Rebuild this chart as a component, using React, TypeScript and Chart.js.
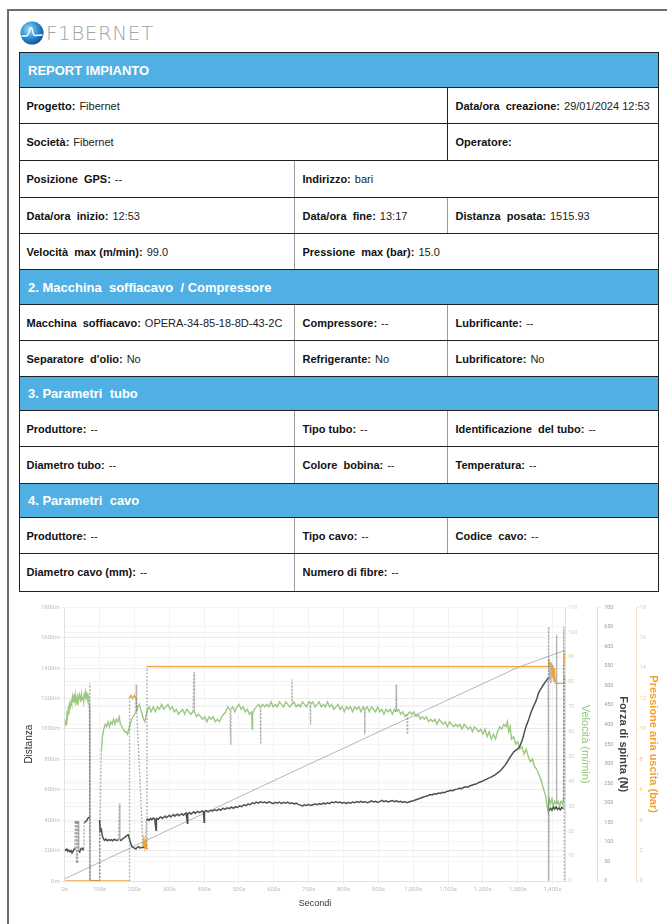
import React, { useEffect, useRef } from "react";
import { Chart, registerables } from "chart.js";

Chart.register(...registerables);

// ---------------- chart data (seconds, value) ----------------
const velocity: [number, number][] = [
  [0, 62], [2, 64], [4, 63], [6, 67], [8, 66], [10, 69], [12, 67], [14, 71], [16, 70], [18, 72],
  [20, 71], [22, 74], [24, 72], [26, 75], [28, 73], [30, 75], [32, 72], [34, 73], [36, 71], [38, 74],
  [40, 73], [42, 75], [44, 74], [46, 72], [48, 75], [50, 73], [52, 74], [54, 72], [56, 75], [58, 74],
  [60, 76], [62, 74], [64, 75], [66, 73], [68, 74], [70, 71], [71, 69], [72, 0], [99, 0],
  [101, 18], [103, 38], [105, 52], [108, 58], [112, 61], [116, 63], [120, 62], [124, 64], [128, 62],
  [132, 64], [136, 63], [140, 65], [144, 63], [148, 65], [152, 64], [156, 66], [160, 63], [164, 62],
  [168, 61], [172, 60], [176, 60], [180, 59], [184, 61], [188, 63], [192, 65], [196, 66], [200, 67],
  [204, 68], [205, 79], [206, 68], [210, 70], [214, 71], [218, 69], [222, 67], [226, 65], [230, 64],
  [234, 67], [238, 69], [242, 70], [248, 68], [254, 70], [260, 68], [266, 70], [272, 69], [278, 71],
  [284, 69], [290, 70], [296, 71], [302, 69], [308, 70], [314, 68], [320, 69], [326, 67], [332, 68],
  [338, 69], [344, 67], [350, 69], [356, 68], [362, 67], [368, 68], [371, 84], [372, 68], [378, 66],
  [384, 67], [390, 66], [396, 65], [402, 66], [408, 64], [414, 66], [420, 65], [426, 66], [432, 64],
  [438, 65], [444, 64], [450, 66], [456, 67], [462, 68], [468, 70], [474, 69], [476, 55], [477, 69],
  [482, 70], [488, 68], [494, 70], [500, 71], [506, 69], [512, 70], [518, 68], [524, 69], [530, 67],
  [536, 68], [538, 61], [539, 67], [544, 69], [550, 70], [556, 71], [561, 70], [562, 55], [563, 70],
  [568, 71], [574, 70], [580, 71], [586, 70], [592, 72], [598, 70], [604, 71], [610, 70], [616, 72],
  [622, 71], [628, 70], [634, 72], [640, 71], [646, 70], [651, 71], [652, 81], [653, 71], [658, 72],
  [664, 70], [670, 71], [676, 70], [682, 72], [688, 71], [694, 70], [700, 72], [704, 72], [705, 63],
  [706, 71], [712, 72], [718, 70], [724, 71], [730, 72], [736, 70], [742, 71], [748, 70], [754, 72],
  [760, 70], [766, 71], [772, 69], [778, 70], [784, 71], [790, 69], [796, 70], [802, 68], [808, 70],
  [814, 69], [820, 70], [826, 68], [832, 70], [838, 69], [844, 70], [850, 68], [856, 70], [860, 69],
  [861, 59], [862, 69], [868, 70], [874, 68], [880, 70], [886, 69], [892, 68], [898, 70], [904, 68],
  [910, 69], [916, 67], [922, 69], [928, 68], [934, 69], [940, 67], [946, 69], [950, 68], [951, 79],
  [952, 68], [958, 69], [964, 67], [970, 68], [976, 66], [982, 67], [983, 59], [984, 67], [990, 68],
  [996, 67], [1002, 68], [1008, 66], [1014, 67], [1020, 65], [1026, 66], [1032, 65], [1038, 66],
  [1044, 64], [1050, 65], [1056, 64], [1062, 65], [1068, 63], [1074, 65], [1080, 64], [1086, 63],
  [1092, 64], [1098, 62], [1104, 64], [1110, 63], [1116, 62], [1122, 63], [1128, 62], [1134, 63],
  [1140, 61], [1146, 63], [1152, 62], [1158, 61], [1164, 62], [1170, 60], [1176, 62], [1182, 61],
  [1188, 60], [1194, 61], [1200, 59], [1206, 61], [1212, 58], [1218, 60], [1224, 57], [1230, 59],
  [1236, 57], [1242, 60], [1248, 62], [1254, 61], [1260, 63], [1266, 62], [1270, 64], [1274, 60],
  [1278, 62], [1282, 57], [1288, 58], [1294, 55], [1300, 56], [1306, 53], [1312, 54], [1318, 51],
  [1324, 53], [1330, 50], [1336, 48], [1342, 49], [1348, 46], [1354, 45], [1360, 43], [1366, 41],
  [1372, 38], [1376, 36], [1380, 34], [1384, 30], [1387, 28], [1390, 33], [1394, 31], [1398, 33],
  [1402, 30], [1406, 32], [1410, 31], [1411, 99], [1412, 31], [1416, 32], [1420, 30], [1424, 32],
  [1428, 31], [1431, 33], [1433, 81], [1435, 82],
];

const force: [number, number][] = [
  [0, 80], [3, 78], [6, 82], [9, 76], [12, 79], [15, 75], [18, 78], [21, 72], [24, 76], [27, 82],
  [29, 84], [30, 150], [33, 152], [34, 50], [36, 48], [37, 150], [39, 152], [40, 76], [43, 74],
  [46, 82], [49, 84], [52, 80], [55, 83], [56, 150], [60, 152], [63, 154], [66, 160], [69, 162],
  [71, 164], [72, 506], [73, 0], [99, 0], [100, 156], [102, 128], [105, 132], [108, 115], [111, 108],
  [114, 104], [118, 107], [122, 103], [126, 106], [130, 104], [134, 106], [138, 103], [142, 107],
  [146, 105], [150, 104], [154, 106], [157, 198], [158, 105], [162, 104], [166, 108], [170, 110],
  [174, 113], [178, 116], [182, 118], [185, 110], [188, 100], [192, 90], [196, 86], [200, 84],
  [204, 82], [208, 86], [212, 88], [216, 84], [220, 86], [224, 85], [228, 88], [232, 85], [234, 156],
  [238, 158], [242, 155], [246, 160], [250, 157], [254, 161], [258, 158], [262, 130], [263, 160],
  [268, 158], [272, 162], [276, 164], [280, 160], [284, 163], [288, 166], [292, 162], [296, 165],
  [300, 168], [304, 164], [308, 167], [312, 170], [316, 166], [320, 169], [324, 171], [328, 167],
  [332, 170], [336, 172], [340, 168], [344, 171], [348, 174], [352, 148], [353, 172], [358, 175],
  [362, 171], [366, 174], [370, 177], [374, 173], [378, 176], [382, 178], [386, 175], [390, 177],
  [394, 179], [398, 176], [400, 150], [401, 178], [406, 180], [412, 177], [418, 181], [424, 179],
  [430, 182], [436, 180], [442, 184], [448, 181], [454, 186], [460, 183], [466, 187], [472, 185],
  [478, 189], [484, 186], [490, 190], [496, 188], [502, 192], [508, 190], [514, 195], [520, 193],
  [526, 197], [532, 195], [538, 200], [544, 198], [550, 202], [556, 199], [562, 203], [568, 200],
  [574, 202], [580, 199], [586, 203], [592, 200], [598, 198], [604, 201], [610, 199], [616, 202],
  [622, 198], [628, 201], [634, 199], [640, 202], [646, 198], [652, 200], [658, 197], [664, 199],
  [670, 196], [676, 194], [682, 192], [688, 195], [694, 193], [700, 196], [706, 193], [712, 195],
  [718, 197], [724, 195], [730, 198], [736, 196], [742, 199], [748, 197], [754, 200], [760, 198],
  [766, 202], [772, 200], [778, 203], [784, 200], [790, 202], [796, 199], [802, 201], [808, 198],
  [814, 201], [820, 199], [826, 202], [832, 200], [838, 203], [844, 201], [850, 204], [856, 201],
  [862, 203], [868, 200], [874, 202], [880, 205], [886, 202], [892, 204], [898, 201], [904, 203],
  [910, 206], [916, 203], [922, 205], [928, 202], [934, 204], [940, 206], [946, 203], [952, 205],
  [958, 202], [964, 204], [970, 201], [976, 203], [982, 200], [988, 202], [994, 204], [1000, 205],
  [1006, 207], [1012, 209], [1018, 211], [1024, 213], [1030, 215], [1036, 217], [1042, 218],
  [1048, 221], [1054, 220], [1060, 223], [1066, 222], [1072, 225], [1078, 224], [1084, 227],
  [1090, 226], [1096, 229], [1102, 230], [1108, 232], [1114, 231], [1120, 234], [1126, 235],
  [1132, 237], [1138, 236], [1144, 239], [1150, 241], [1156, 240], [1162, 243], [1168, 245],
  [1174, 247], [1180, 248], [1186, 251], [1192, 253], [1198, 255], [1204, 258], [1210, 260],
  [1216, 263], [1222, 265], [1228, 268], [1234, 271], [1240, 275], [1246, 279], [1252, 284],
  [1258, 290], [1264, 297], [1270, 305], [1276, 314], [1282, 322], [1288, 330], [1294, 334],
  [1300, 338], [1306, 345], [1312, 358], [1316, 370], [1320, 384], [1324, 396], [1328, 405],
  [1332, 415], [1336, 426], [1340, 436], [1344, 444], [1348, 452], [1352, 460], [1356, 470],
  [1360, 482], [1364, 488], [1368, 494], [1372, 500], [1376, 505], [1380, 510], [1384, 515],
  [1387, 520], [1388, 650], [1389, 0], [1390, 180], [1394, 186], [1398, 181], [1402, 189],
  [1406, 184], [1410, 190], [1414, 183], [1418, 187], [1422, 182], [1426, 188], [1430, 185],
  [1432, 650], [1434, 0],
];

const pressure: [number, number][] = [
  [0, 0], [185, 0], [186, 12.1], [190, 12.2], [195, 12.0], [200, 12.2], [205, 12.0], [210, 9.5],
  [215, 7], [220, 4.5], [224, 2.3], [227, 2.8], [230, 2.2], [233, 2.6], [235, 2.1], [236, 14.1],
  [600, 14.1], [1000, 14.1], [1387, 14.1], [1389, 14.6], [1391, 13.2], [1393, 14.4], [1395, 13.0],
  [1397, 14.3], [1399, 13.4], [1401, 14.2], [1403, 13.1], [1405, 14.0], [1408, 13.0], [1416, 13.0],
  [1424, 13.0], [1430, 13.0], [1432, 14.2], [1434, 15.0],
];

const distance: [number, number][] = [
  [0, 15], [72, 92], [100, 123], [200, 230], [300, 338], [400, 445], [500, 552], [600, 660],
  [700, 767], [800, 873], [900, 980], [1000, 1085], [1100, 1192], [1200, 1298], [1300, 1404],
  [1400, 1488], [1436, 1516],
];

const xMax = 1436;
const distanceTicks = { min: 0, max: 1800, step: 200 };
const velocityTicks = { min: 0, max: 110, step: 10 };
const forceTicks = { min: 0, max: 700, step: 50 };
const pressureTicks = { min: 0, max: 18, step: 2 };

// ---------------- report table content ----------------
type Cell = { label: string; value: string; from: number; to: number };
type Row = { head?: string; cells?: Cell[]; dark?: boolean };

const rows: Row[] = [
  { head: "REPORT IMPIANTO" },
  { cells: [{ label: "Progetto:", value: "Fibernet", from: 0, to: 2 }, { label: "Data/ora  creazione:", value: "29/01/2024 12:53", from: 2, to: 3 }], dark: true },
  { cells: [{ label: "Società:", value: "Fibernet", from: 0, to: 2 }, { label: "Operatore:", value: "", from: 2, to: 3 }], dark: true },
  { cells: [{ label: "Posizione  GPS:", value: "--", from: 0, to: 1 }, { label: "Indirizzo:", value: "bari", from: 1, to: 3 }] },
  { cells: [{ label: "Data/ora  inizio:", value: "12:53", from: 0, to: 1 }, { label: "Data/ora  fine:", value: "13:17", from: 1, to: 2 }, { label: "Distanza  posata:", value: "1515.93", from: 2, to: 3 }] },
  { cells: [{ label: "Velocità  max (m/min):", value: "99.0", from: 0, to: 1 }, { label: "Pressione  max (bar):", value: "15.0", from: 1, to: 3 }] },
  { head: "2. Macchina  soffiacavo  / Compressore" },
  { cells: [{ label: "Macchina  soffiacavo:", value: "OPERA-34-85-18-8D-43-2C", from: 0, to: 1 }, { label: "Compressore:", value: "--", from: 1, to: 2 }, { label: "Lubrificante:", value: "--", from: 2, to: 3 }] },
  { cells: [{ label: "Separatore  d'olio:", value: "No", from: 0, to: 1 }, { label: "Refrigerante:", value: "No", from: 1, to: 2 }, { label: "Lubrificatore:", value: "No", from: 2, to: 3 }] },
  { head: "3. Parametri  tubo" },
  { cells: [{ label: "Produttore:", value: "--", from: 0, to: 1 }, { label: "Tipo tubo:", value: "--", from: 1, to: 2 }, { label: "Identificazione  del tubo:", value: "--", from: 2, to: 3 }] },
  { cells: [{ label: "Diametro tubo:", value: "--", from: 0, to: 1 }, { label: "Colore  bobina:", value: "--", from: 1, to: 2 }, { label: "Temperatura:", value: "--", from: 2, to: 3 }] },
  { head: "4. Parametri  cavo" },
  { cells: [{ label: "Produttore:", value: "--", from: 0, to: 1 }, { label: "Tipo cavo:", value: "--", from: 1, to: 2 }, { label: "Codice  cavo:", value: "--", from: 2, to: 3 }] },
  { cells: [{ label: "Diametro cavo (mm):", value: "--", from: 0, to: 1 }, { label: "Numero di fibre:", value: "--", from: 1, to: 3 }] },
];

const ROW_H = [35, 36, 37, 37, 36, 36, 35, 36, 36, 34, 36, 37, 34, 36, 37];
const COLS = [19, 294, 447, 659];
const TABLE_TOP = 52;
const FONT = '"Liberation Sans", Arial, Helvetica, sans-serif';

const pts = (a: [number, number][]) => a.map(([x, y]) => ({ x, y }));

const steep = (ctx: any) =>
  Math.abs(ctx.p1.y - ctx.p0.y) > 18 && Math.abs(ctx.p1.x - ctx.p0.x) < 2;

const spikeSegment = {
  borderColor: (ctx: any) => (steep(ctx) ? "rgba(85,88,85,0.45)" : undefined),
  borderDash: (ctx: any) => (steep(ctx) ? [2, 1.5] : undefined),
};

function ReportChart() {
  const ref = useRef<HTMLCanvasElement | null>(null);
  useEffect(() => {
    if (!ref.current) return;
    const tickFont = { size: 5.5, family: "Roboto, Arial, sans-serif" };
    const chart = new Chart(ref.current, {
      type: "line",
      data: {
        datasets: [
          {
            label: "Pressione",
            data: pts(pressure),
            yAxisID: "yP",
            borderColor: "#f0a33c",
            borderWidth: 1.4,
            pointRadius: 0,
            segment: spikeSegment,
          },
          {
            label: "Forza",
            data: pts(force),
            yAxisID: "yF",
            borderColor: "#4a544c",
            borderWidth: 1.5,
            pointRadius: 0,
            segment: spikeSegment,
          },
          {
            label: "Velocità",
            data: pts(velocity),
            yAxisID: "yV",
            borderColor: "#9bc983",
            borderWidth: 1.4,
            pointRadius: 0,
            segment: spikeSegment,
          },
          {
            label: "Distanza",
            data: pts(distance),
            yAxisID: "y",
            borderColor: "rgba(80,88,120,0.55)",
            borderWidth: 0.8,
            pointRadius: 0,
          },
        ],
      },
      options: {
        animation: false,
        responsive: true,
        maintainAspectRatio: false,
        layout: { padding: { top: 5, left: 0, right: 0, bottom: 0 } },
        plugins: { legend: { display: false }, tooltip: { enabled: false } },
        scales: {
          x: {
            type: "linear",
            min: 0,
            max: xMax,
            ticks: {
              stepSize: 100,
              includeBounds: false,
              maxRotation: 0,
              autoSkip: false,
              padding: 2,
              font: { size: 6, family: "Roboto, Arial, sans-serif" },
              color: "#bdbdbd",
              callback: (v: any) => Number(v).toLocaleString("en-US") + "s",
            },
            grid: { color: "#f3f3f3", tickLength: 3 },
            border: { color: "#e2e2e2" },
            title: { display: true, text: "Secondi", color: "#333", font: { size: 9, family: FONT }, padding: { top: 3, bottom: 4 } },
          },
          y: {
            position: "left",
            min: distanceTicks.min,
            max: distanceTicks.max,
            ticks: { stepSize: distanceTicks.step, padding: 2, font: { size: 6, family: "Roboto, Arial, sans-serif" }, color: "#bdbdbd", callback: (v: any) => v + "m" },
            grid: { color: "#ebebeb", tickLength: 3 },
            border: { color: "#e2e2e2" },
            title: { display: true, text: "Distanza", color: "#333", font: { size: 10, family: FONT }, padding: { top: 4, bottom: 4 } },
          },
          yV: {
            position: "right",
            min: velocityTicks.min,
            max: velocityTicks.max,
            ticks: { stepSize: velocityTicks.step, padding: 1, font: tickFont, color: "#c8d9b6" },
            grid: { color: "#f2f2f2", tickLength: 2 },
            border: { color: "#dedede" },
            title: { display: true, text: "Velocità (m/min)", color: "#93c879", font: { size: 11, family: FONT }, padding: { top: 5.5, bottom: 0 } },
          },
          yF: {
            position: "right",
            min: forceTicks.min,
            max: forceTicks.max,
            ticks: { stepSize: forceTicks.step, padding: 3, font: tickFont, color: "#9e9e9e" },
            grid: { color: "#f5f5f5", tickLength: 4 },
            border: { color: "#dedede" },
            title: { display: true, text: "Forza di spinta (N)", color: "#3f3f3f", font: { size: 11, family: FONT, weight: "bold" }, padding: { top: 7, bottom: 0 } },
          },
          yP: {
            position: "right",
            min: pressureTicks.min,
            max: pressureTicks.max,
            ticks: { stepSize: pressureTicks.step, padding: 1, font: tickFont, color: "#f5c488" },
            grid: { drawOnChartArea: false, color: "#fbe2c4", tickLength: 2 },
            border: { color: "#fbe2c4" },
            title: { display: true, text: "Pressione aria uscita (bar)", color: "#f5a02a", font: { size: 11, family: FONT, weight: "bold" }, padding: { top: 4, bottom: 0 } },
          },
        },
      } as any,
    });
    return () => chart.destroy();
  }, []);
  return <canvas ref={ref} />;
}

function Logo() {
  return (
    <div style={{ position: "absolute", left: 19, top: 19, height: 28, display: "flex", alignItems: "center" }}>
      <svg width="26" height="26" viewBox="0 0 26 26">
        <defs>
          <radialGradient id="lg" cx="38%" cy="35%" r="70%">
            <stop offset="0" stopColor="#a6def8" />
            <stop offset="0.55" stopColor="#2c8fd2" />
            <stop offset="1" stopColor="#174a8f" />
          </radialGradient>
        </defs>
        <circle cx="13" cy="13" r="11.5" fill="url(#lg)" />
        <path d="M2.5 16 L7 16 Q9 16 10 12 Q11.5 5 13 9 Q14.5 16 16 15.5 L23.5 15" stroke="#ffffff" strokeWidth="1.3" fill="none" />
      </svg>
      <span style={{ marginLeft: 1, fontFamily: '"DejaVu Sans", sans-serif', fontWeight: 200, fontSize: 20, letterSpacing: 0.5, color: "#a3a3a3" }}>
        F1BERNET
      </span>
    </div>
  );
}

export default function App() {
  let y = TABLE_TOP;
  const rowEls = rows.map((r, i) => {
    const h = ROW_H[i];
    const top = y;
    y += h;
    const isLast = i === rows.length - 1;
    const base: React.CSSProperties = {
      position: "absolute",
      left: COLS[0],
      top,
      width: COLS[3] - COLS[0],
      height: h + (isLast ? 1.5 : 0),
      boxSizing: "border-box",
      borderTop: "1.5px solid #1f1f1f",
      borderLeft: "1.5px solid #1f1f1f",
      borderRight: "1.5px solid #1f1f1f",
      borderBottom: isLast ? "1.5px solid #1f1f1f" : "none",
      background: r.head ? "#51b0e3" : "#ffffff",
    };
    if (r.head) {
      return (
        <div key={i} style={{ ...base, display: "flex", alignItems: "center" }}>
          <span style={{ paddingLeft: 8, color: "#fff", fontWeight: "bold", fontSize: 13, whiteSpace: "pre", fontFamily: FONT }}>{r.head}</span>
        </div>
      );
    }
    return (
      <div key={i} style={base}>
        {(r.cells || []).map((c, j) => (
          <div
            key={j}
            style={{
              position: "absolute",
              left: COLS[c.from] - COLS[0] - 1.5,
              width: COLS[c.to] - COLS[c.from],
              top: 0,
              bottom: 0,
              boxSizing: "border-box",
              borderLeft: c.from > 0 ? (r.dark ? "1.5px solid #1f1f1f" : "1px solid #9a9a9a") : "none",
              display: "flex",
              alignItems: "center",
              paddingLeft: 8,
              fontFamily: FONT,
              fontSize: 11,
              whiteSpace: "pre",
            }}
          >
            <span style={{ fontWeight: "bold", color: "#111" }}>{c.label}</span>
            <span style={{ color: "#222", marginLeft: 4 }}>{c.value}</span>
          </div>
        ))}
      </div>
    );
  });

  return (
    <div style={{ position: "absolute", left: 0, top: 0, width: 667, height: 924, overflow: "hidden", background: "#fff" }}>
      <div style={{ position: "absolute", left: 7, top: 9, width: 700, height: 1000, borderLeft: "2px solid #6e6e6e", borderTop: "2px solid #6e6e6e" }} />
      <Logo />
      {rowEls}
      <div style={{ position: "absolute", left: 19, top: 601, width: 645, height: 312 }}>
        <ReportChart />
      </div>
    </div>
  );
}
